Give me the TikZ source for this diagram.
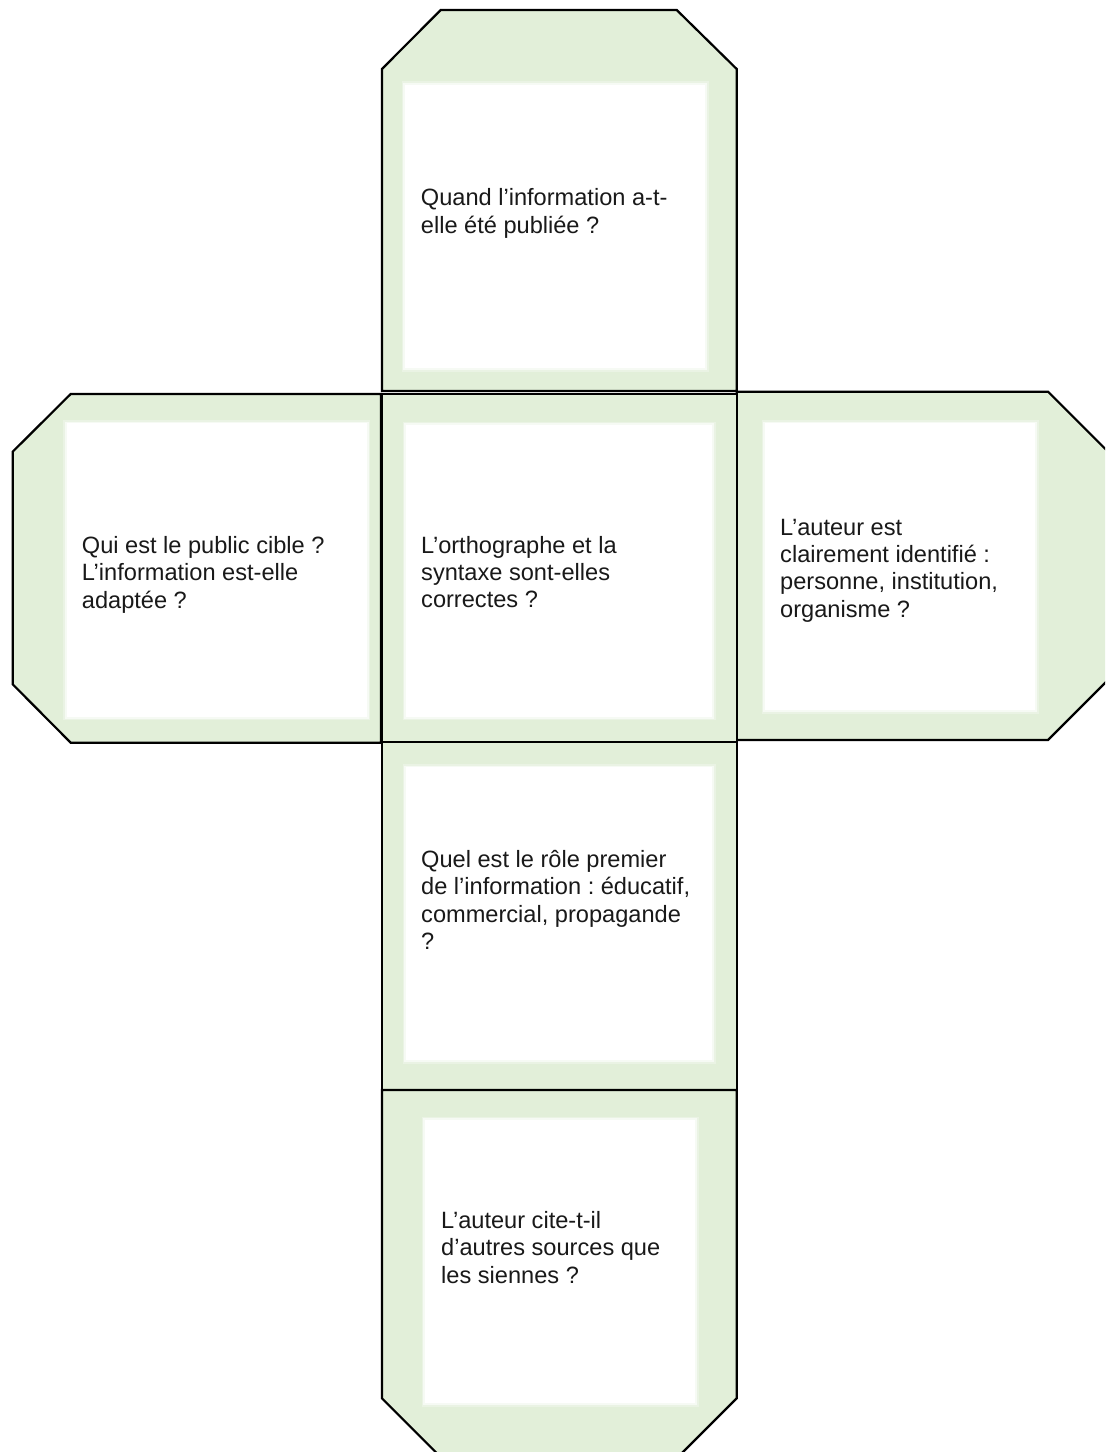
\documentclass[tikz,border=0pt]{standalone}
\usepackage{fontspec}
\setmainfont{Liberation Sans}
\frenchspacing
\definecolor{facegreen}{HTML}{E2EFD9}
\newcommand{\qfont}{\fontsize{23.6bp}{27.4bp}\selectfont\frenchspacing}
\newcommand{\whitepad}[4]{%
  \fill[white,opacity=0.3] (#1-3.5,#2-3.5) rectangle (#3+3.5,#4+3.5);
  \fill[white,opacity=0.6] (#1-1.8,#2-1.8) rectangle (#3+1.8,#4+1.8);
  \fill[white] (#1,#2) rectangle (#3,#4);}
\tikzset{
  face/.style={fill=facegreen, draw=black, line width=2.2bp, line join=miter},
  qtext/.style={anchor=base west, align=left, inner sep=0pt, font=\qfont, text=black!90}
}
\begin{document}
\begin{tikzpicture}[x=1bp,y=-1bp]
\useasboundingbox (0,0) rectangle (1105,1452);
\clip (0,0) rectangle (1105,1452);
% faces
\path[face] (440.7,10) -- (676.7,10) -- (736.7,69) -- (736.7,391) -- (382,391) -- (382,69) -- cycle;
\path[face] (70.7,394) -- (381,394) -- (381,742.7) -- (70.7,742.7) -- (12.7,684.3) -- (12.7,451.7) -- cycle;
\path[face] (736.7,391.7) -- (1048,391.7) -- (1107,450.7) -- (1107,681) -- (1048,740) -- (736.7,740) -- cycle;
\path[face] (382,394) rectangle (736.7,741.7);
\path[face] (382,742.3) rectangle (736.7,1090);
\path[face] (382,1090) -- (736.7,1090) -- (736.7,1398.3) -- (677.7,1457.3) -- (441,1457.3) -- (382,1398.3) -- cycle;
% white pads
\whitepad{405}{85}{705}{368.3}
\whitepad{66.7}{423.3}{366.7}{716.7}
\whitepad{406}{425}{712.3}{716.7}
\whitepad{765}{423.3}{1035}{710}
\whitepad{406}{767.3}{712}{1060}
\whitepad{425}{1120}{695}{1403.3}
% texts (anchored at the baseline of the last line)
\node[qtext] (t1) at (420.7,233.4) {Quand l’information a-t-\\elle été publiée ?};
\node[qtext] (t2) at (81.7,608.1) {Qui est le public cible ?\\L’information est-elle\\adaptée ?};
\node[qtext] (t3) at (421,607.8) {L’orthographe et la\\syntaxe sont-elles\\correctes ?};
\node[qtext] (t4) at (780,617.2) {L’auteur est\\clairement identifié :\\personne, institution,\\organisme ?};
\node[qtext] (t5) at (421,949.5) {Quel est le rôle premier\\de l’information : éducatif,\\commercial, propagande\\?};
\node[qtext] (t6) at (441,1283.1) {L’auteur cite-t-il\\d’autres sources que\\les siennes ?};
\end{tikzpicture}
\end{document}
